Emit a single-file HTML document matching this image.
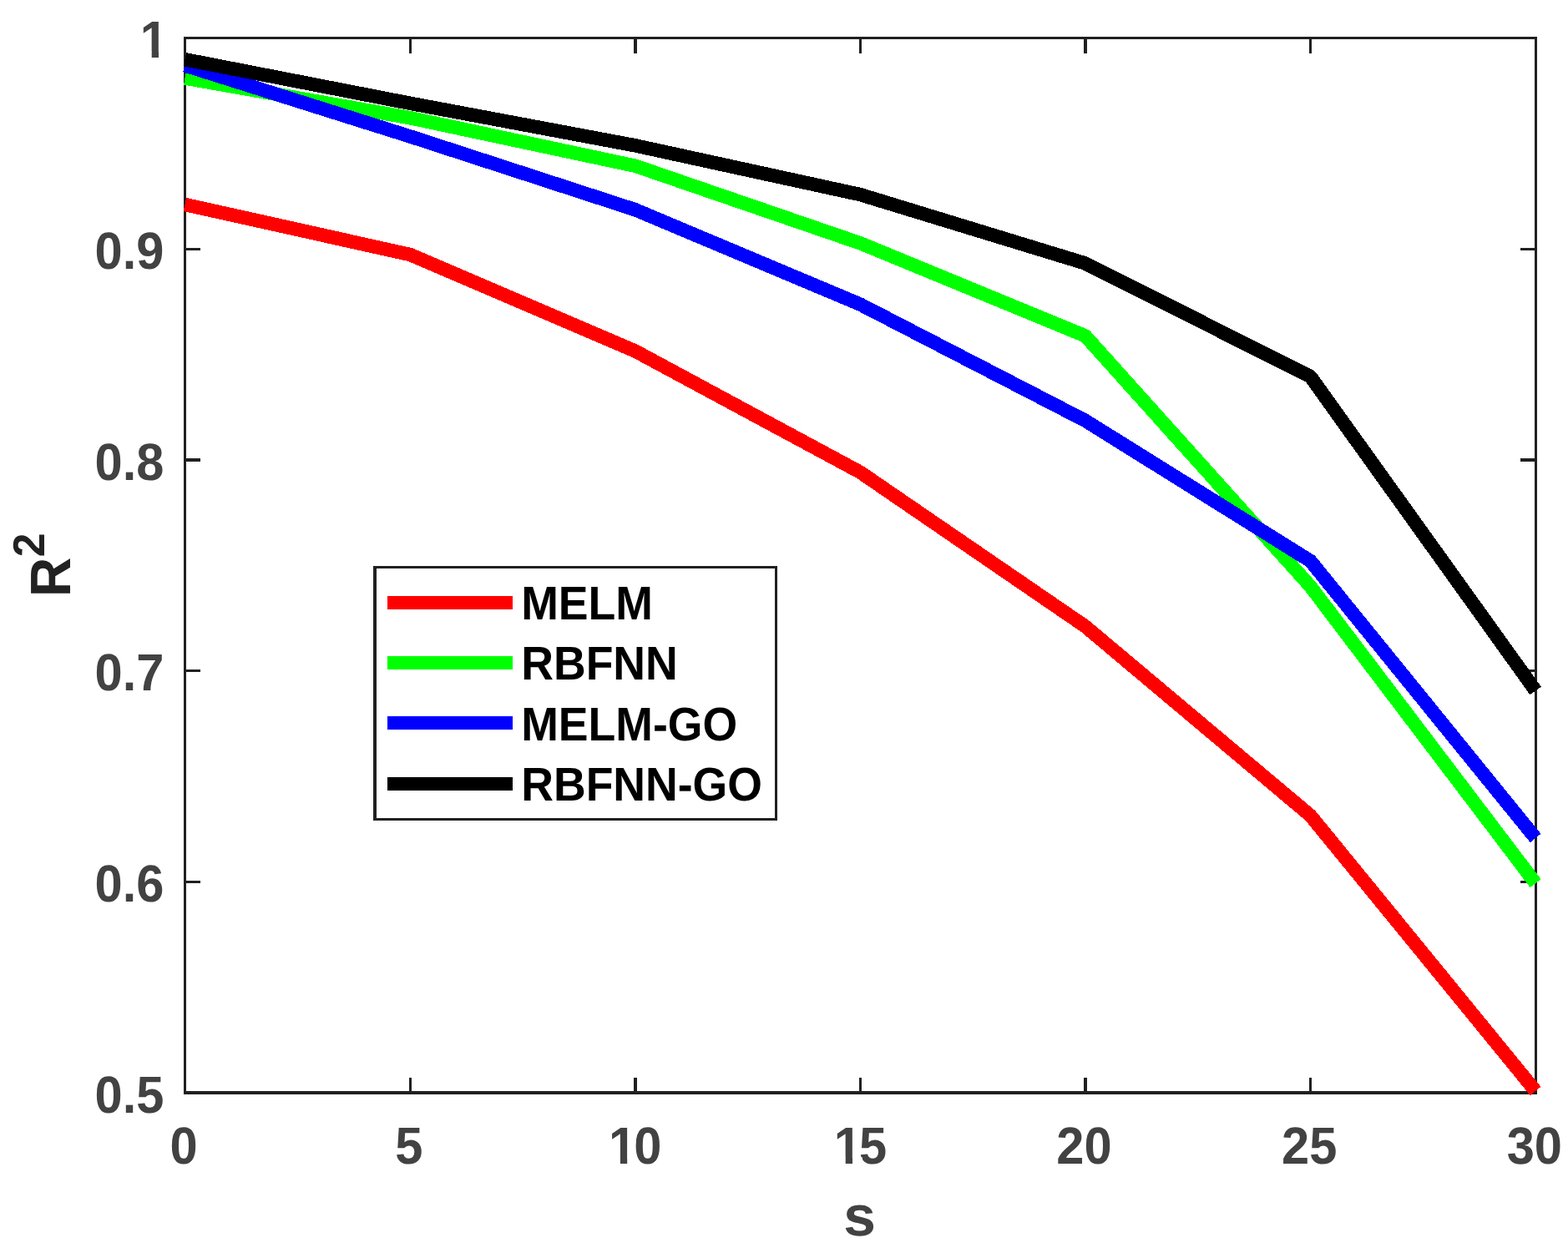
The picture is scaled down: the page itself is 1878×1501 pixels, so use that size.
<!DOCTYPE html>
<html lang="en"><head><meta charset="utf-8"><title>R2 versus s</title>
<style>html,body{margin:0;padding:0;background:#fff;}body{width:1878px;height:1501px;overflow:hidden;}svg{display:block;}text{font-family:"Liberation Sans",Arial,Helvetica,sans-serif;font-weight:bold;text-rendering:geometricPrecision;}</style>
</head><body>
<svg width="1878" height="1501" viewBox="0 0 1878 1501">
<rect x="0" y="0" width="1878" height="1501" fill="#ffffff"/>
<g fill="#202020" shape-rendering="crispEdges">
<rect x="220" y="44" width="3" height="1267"/>
<rect x="1838" y="44" width="3" height="1267"/>
<rect x="220" y="44" width="1621" height="3"/>
<rect x="220" y="1307" width="1621" height="4"/>
<rect x="490" y="1291" width="3" height="20"/>
<rect x="490" y="44" width="3" height="20"/>
<rect x="759" y="1291" width="4" height="20"/>
<rect x="759" y="44" width="4" height="20"/>
<rect x="1029" y="1291" width="3" height="20"/>
<rect x="1029" y="44" width="3" height="20"/>
<rect x="1298" y="1291" width="4" height="20"/>
<rect x="1298" y="44" width="4" height="20"/>
<rect x="1568" y="1291" width="3" height="20"/>
<rect x="1568" y="44" width="3" height="20"/>
<rect x="220" y="297" width="20" height="3"/>
<rect x="1821" y="297" width="20" height="3"/>
<rect x="220" y="549" width="20" height="4"/>
<rect x="1821" y="549" width="20" height="4"/>
<rect x="220" y="802" width="20" height="3"/>
<rect x="1821" y="802" width="20" height="3"/>
<rect x="220" y="1055" width="20" height="3"/>
<rect x="1821" y="1055" width="20" height="3"/>
</g>
<g fill="none" stroke-width="16.50" stroke-linejoin="round" stroke-linecap="butt" shape-rendering="crispEdges">
<polyline stroke="#ff0000" points="221.50,245.00 491.10,305.00 760.70,420.50 1030.30,565.70 1299.90,750.40 1569.50,977.00 1839.10,1307.00"/>
<polyline stroke="#00ff00" points="221.50,93.50 491.10,141.20 760.70,198.70 1030.30,291.30 1299.90,402.40 1569.50,702.50 1839.10,1058.10"/>
<polyline stroke="#0000ff" points="221.50,78.30 491.10,163.40 760.70,251.20 1030.30,364.60 1299.90,503.90 1569.50,672.00 1839.10,1004.00"/>
<polyline stroke="#000000" points="221.50,71.20 491.10,123.75 760.70,174.30 1030.30,233.10 1299.90,315.50 1569.50,451.10 1839.10,827.40"/>
</g>
<defs>
<clipPath id="c1">
<rect x="-5" y="-71.52" width="48.1467" height="64.3901"/>
<rect x="13.8523" y="-7.27539" width="8.29395" height="9.27539"/>
</clipPath>
<clipPath id="c2">
<rect x="-5" y="-71.52" width="81.2934" height="64.3901"/>
<rect x="13.8523" y="-7.27539" width="8.29395" height="9.27539"/>
<rect x="34.1467" y="-71.52" width="42.1467" height="89.4"/>
</clipPath>
</defs>
<g fill="#424242" font-size="59.60">
<text transform="translate(203.53,1394.00) scale(1,1.0510)" x="0" y="0">0</text>
<text transform="translate(473.23,1394.00) scale(1,1.0510)" x="0" y="0">5</text>
<g transform="translate(726.15,1394.00) scale(1,1.0510)"><g transform="translate(2.90,0)" clip-path="url(#c2)"><text x="-2.90" y="0"><tspan dx="2.90">1</tspan><tspan dx="-2.90">0</tspan></text></g></g>
<g transform="translate(995.95,1394.00) scale(1,1.0510)"><g transform="translate(2.90,0)" clip-path="url(#c2)"><text x="-2.90" y="0"><tspan dx="2.90">1</tspan><tspan dx="-2.90">5</tspan></text></g></g>
<text transform="translate(1265.35,1394.00) scale(1,1.0510)" x="0" y="0">20</text>
<text transform="translate(1535.05,1394.00) scale(1,1.0510)" x="0" y="0">25</text>
<text transform="translate(1804.65,1394.00) scale(1,1.0510)" x="0" y="0">30</text>
<g transform="translate(164.95,69.00) scale(1,1.0510)"><g transform="translate(2.90,0)" clip-path="url(#c1)"><text x="-2.90" y="0"><tspan dx="2.90">1</tspan></text></g></g>
<text transform="translate(113.55,322.00) scale(1,1.0510)" x="0" y="0">0.9</text>
<text transform="translate(113.55,575.00) scale(1,1.0510)" x="0" y="0">0.8</text>
<text transform="translate(113.55,827.00) scale(1,1.0510)" x="0" y="0">0.7</text>
<text transform="translate(113.55,1080.00) scale(1,1.0510)" x="0" y="0">0.6</text>
<text transform="translate(113.55,1333.00) scale(1,1.0510)" x="0" y="0">0.5</text>
</g>
<text transform="translate(1010.15,1480.0) scale(1,0.975)" font-size="69.5" fill="#424242">s</text>
<g transform="translate(84,715.3) rotate(-90)" fill="#222222"><text transform="scale(1,1.0331)" font-size="66">R<tspan font-size="51.6" dx="0.5" dy="-30.05">2</tspan></text></g>
<rect x="447" y="678" width="484" height="305" fill="#ffffff"/>
<g fill="#202020" shape-rendering="crispEdges">
<rect x="447" y="678" width="4" height="305"/>
<rect x="928" y="678" width="3" height="305"/>
<rect x="447" y="678" width="484" height="3"/>
<rect x="447" y="980" width="484" height="3"/>
</g>
<g shape-rendering="crispEdges">
<rect x="464" y="714" width="150" height="16" fill="#ff0000"/>
<rect x="464" y="786" width="150" height="16" fill="#00ff00"/>
<rect x="464" y="858" width="150" height="16" fill="#0000ff"/>
<rect x="464" y="931" width="150" height="16" fill="#000000"/>
</g>
<g fill="#000000" font-size="53.60">
<text transform="translate(624.22,742.00) scale(1,1.0576)" x="0" y="0">MELM</text>
<text transform="translate(624.22,814.00) scale(1,1.0576)" x="0" y="0">RBFNN</text>
<text transform="translate(624.22,887.00) scale(1,1.0576)" x="0" y="0">MELM-GO</text>
<text transform="translate(624.22,959.00) scale(1,1.0576)" x="0" y="0">RBFNN-GO</text>
</g>
</svg>
</body></html>
